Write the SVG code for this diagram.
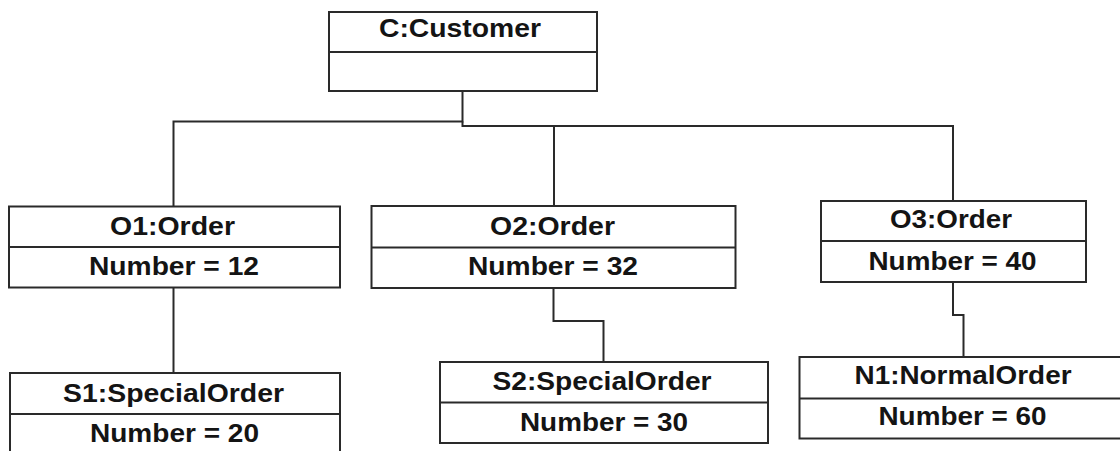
<svg xmlns="http://www.w3.org/2000/svg" width="1120" height="451" viewBox="0 0 1120 451">
<style>
.box{fill:#fff;stroke:#2a2a2a;stroke-width:2}
.div{stroke:#2a2a2a;stroke-width:2}
.conn{fill:none;stroke:#2a2a2a;stroke-width:2}
text{font-family:"Liberation Sans",Arial,sans-serif;font-size:25px;font-weight:bold;fill:#141414;text-anchor:middle}
</style>
<rect width="1120" height="451" fill="#fff"/>
<g id="connectors">
<polyline class="conn" points="173.5,206 173.5,121.5 462.5,121.5 462.5,91"/>
<polyline class="conn" points="462.5,121.5 462.5,126 953,126 953,201"/>
<line class="conn" x1="554" y1="126" x2="554" y2="206"/>
<line class="conn" x1="173.5" y1="288" x2="173.5" y2="373"/>
<polyline class="conn" points="553.5,288 553.5,321 603.5,321 603.5,362"/>
<polyline class="conn" points="953,282 953,315 963.5,315 963.5,357"/>
</g>
<g id="C">
<rect class="box" x="329" y="12" width="268" height="79"/>
<line class="div" x1="329" y1="52" x2="597" y2="52"/>
<text x="460" y="37" textLength="162" lengthAdjust="spacingAndGlyphs">C:Customer</text>
</g>
<g id="O1">
<rect class="box" x="9" y="206.5" width="331" height="81"/>
<line class="div" x1="9" y1="247" x2="340" y2="247"/>
<text x="172.5" y="235" textLength="125" lengthAdjust="spacingAndGlyphs">O1:Order</text>
<text x="174" y="275" textLength="170" lengthAdjust="spacingAndGlyphs">Number = 12</text>
</g>
<g id="O2">
<rect class="box" x="371.5" y="206" width="364" height="82"/>
<line class="div" x1="371.5" y1="247.5" x2="735.5" y2="247.5"/>
<text x="552.5" y="235" textLength="125" lengthAdjust="spacingAndGlyphs">O2:Order</text>
<text x="553" y="275" textLength="170" lengthAdjust="spacingAndGlyphs">Number = 32</text>
</g>
<g id="O3">
<rect class="box" x="821" y="201" width="265" height="81"/>
<line class="div" x1="821" y1="241" x2="1086" y2="241"/>
<text x="951" y="227.5" textLength="122" lengthAdjust="spacingAndGlyphs">O3:Order</text>
<text x="952.5" y="269.5" textLength="168" lengthAdjust="spacingAndGlyphs">Number = 40</text>
</g>
<g id="S1">
<rect class="box" x="10" y="373" width="330" height="90"/>
<line class="div" x1="10" y1="414" x2="340" y2="414"/>
<text x="173.5" y="401.5" textLength="221" lengthAdjust="spacingAndGlyphs">S1:SpecialOrder</text>
<text x="174.5" y="441.5" textLength="169" lengthAdjust="spacingAndGlyphs">Number = 20</text>
</g>
<g id="S2">
<rect class="box" x="440" y="362" width="328" height="81"/>
<line class="div" x1="440" y1="402.5" x2="768" y2="402.5"/>
<text x="602" y="390" textLength="219" lengthAdjust="spacingAndGlyphs">S2:SpecialOrder</text>
<text x="604" y="430.5" textLength="168" lengthAdjust="spacingAndGlyphs">Number = 30</text>
</g>
<g id="N1">
<rect class="box" x="799.5" y="357" width="328" height="81.5"/>
<line class="div" x1="799.5" y1="398.5" x2="1127.5" y2="398.5"/>
<text x="963" y="384" textLength="217" lengthAdjust="spacingAndGlyphs">N1:NormalOrder</text>
<text x="962.5" y="425" textLength="168" lengthAdjust="spacingAndGlyphs">Number = 60</text>
</g>
</svg>
